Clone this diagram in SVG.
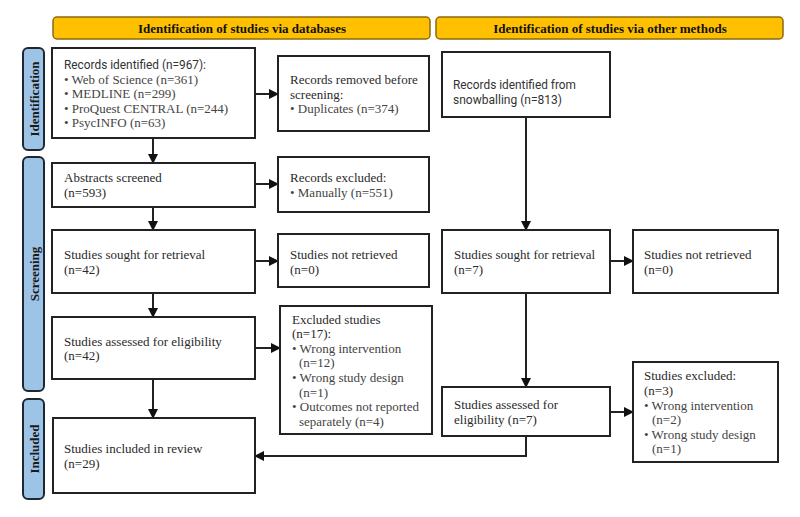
<svg xmlns="http://www.w3.org/2000/svg" width="800" height="517" viewBox="0 0 800 517">
<style>
.hdr{fill:#FFC000;stroke:#8A6A10;stroke-width:1.5}
.phase{fill:#9DC3E6;stroke:#1E2833;stroke-width:2}
.box{fill:#fff;stroke:#222;stroke-width:2}
.t{font-family:"Liberation Serif",serif;font-size:13px;fill:#2a2a2a}
.b{font-family:"Liberation Serif",serif;font-size:13px;fill:#444}
.s{font-family:Roboto,"Liberation Sans",sans-serif;font-size:12.5px;fill:#333}
.ht{font-family:"Liberation Serif",serif;font-size:13px;font-weight:bold;fill:#111;text-anchor:middle}
.pt{font-family:"Liberation Serif",serif;font-size:13px;font-weight:bold;fill:#1a1a1a;text-anchor:middle}
.c{fill:none;stroke:#222;stroke-width:2}
</style>
<defs>
<marker id="ah" markerWidth="10" markerHeight="10" refX="9" refY="5" orient="auto" markerUnits="userSpaceOnUse">
<path d="M0,0 L10,5 L0,10 Z" fill="#111"/>
</marker>
</defs>
<rect width="800" height="517" fill="#fff"/>

<g id="header-databases"><rect class="hdr" x="53" y="17" width="377" height="22" rx="4"/><text class="ht" x="242" y="32.5">Identification of studies via databases</text></g>
<g id="header-other"><rect class="hdr" x="436" y="17" width="347" height="22" rx="4"/><text class="ht" x="610" y="32.5">Identification of studies via other methods</text></g>

<g id="phase-identification"><rect class="phase" x="23" y="48" width="21" height="102" rx="5"/><text class="pt" transform="translate(38.5,99) rotate(-90)">Identification</text></g>
<g id="phase-screening"><rect class="phase" x="23" y="157" width="21" height="234" rx="5"/><text class="pt" transform="translate(38.5,274) rotate(-90)">Screening</text></g>
<g id="phase-included"><rect class="phase" x="23" y="399" width="21" height="100" rx="5"/><text class="pt" transform="translate(38.5,449) rotate(-90)">Included</text></g>

<g id="connectors">
<line class="c" x1="153" y1="138" x2="153" y2="163" marker-end="url(#ah)"/>
<line class="c" x1="153" y1="207" x2="153" y2="230" marker-end="url(#ah)"/>
<line class="c" x1="153" y1="293" x2="153" y2="317" marker-end="url(#ah)"/>
<line class="c" x1="153" y1="379" x2="153" y2="418" marker-end="url(#ah)"/>
<line class="c" x1="255" y1="94" x2="278" y2="94" marker-end="url(#ah)"/>
<line class="c" x1="255" y1="184" x2="278" y2="184" marker-end="url(#ah)"/>
<line class="c" x1="255" y1="261" x2="278" y2="261" marker-end="url(#ah)"/>
<line class="c" x1="255" y1="348" x2="280" y2="348" marker-end="url(#ah)"/>
<line class="c" x1="526" y1="117" x2="526" y2="230" marker-end="url(#ah)"/>
<line class="c" x1="526" y1="293" x2="526" y2="387" marker-end="url(#ah)"/>
<line class="c" x1="610" y1="261" x2="633" y2="261" marker-end="url(#ah)"/>
<line class="c" x1="610" y1="412" x2="633" y2="412" marker-end="url(#ah)"/>
<polyline class="c" points="526,436 526,456 255,456" marker-end="url(#ah)"/>
</g>

<g id="records-identified"><rect class="box" x="52" y="48" width="203" height="90"/>
<text class="s" x="64" y="69" textLength="142" lengthAdjust="spacingAndGlyphs">Records identified (n=967):</text>
<text class="b" x="64" y="84">• Web of Science (n=361)</text>
<text class="b" x="64" y="98">• MEDLINE (n=299)</text>
<text class="b" x="64" y="113">• ProQuest CENTRAL (n=244)</text>
<text class="b" x="64" y="127">• PsycINFO (n=63)</text></g>

<g id="records-removed"><rect class="box" x="278" y="56" width="151" height="75"/>
<text class="t" x="290" y="84">Records removed before</text>
<text class="t" x="290" y="99">screening:</text>
<text class="b" x="290" y="113">• Duplicates (n=374)</text></g>

<g id="abstracts-screened"><rect class="box" x="52" y="163" width="203" height="44"/>
<text class="t" x="64" y="182">Abstracts screened</text>
<text class="t" x="64" y="197">(n=593)</text></g>

<g id="records-excluded"><rect class="box" x="278" y="157" width="151" height="55"/>
<text class="t" x="290" y="182">Records excluded:</text>
<text class="b" x="290" y="197">• Manually (n=551)</text></g>

<g id="sought-db"><rect class="box" x="52" y="230" width="203" height="63"/>
<text class="t" x="64" y="259">Studies sought for retrieval</text>
<text class="t" x="64" y="274">(n=42)</text></g>

<g id="not-retrieved-db"><rect class="box" x="278" y="234" width="151" height="53"/>
<text class="t" x="290" y="259">Studies not retrieved</text>
<text class="t" x="290" y="274">(n=0)</text></g>

<g id="assessed-db"><rect class="box" x="52" y="317" width="203" height="62"/>
<text class="t" x="64" y="346">Studies assessed for eligibility</text>
<text class="t" x="64" y="360">(n=42)</text></g>

<g id="excluded-db"><rect class="box" x="280" y="306" width="152" height="128"/>
<text class="t" x="292" y="324">Excluded studies</text>
<text class="t" x="292" y="338">(n=17):</text>
<text class="b" x="292" y="353">• Wrong intervention</text>
<text class="b" x="299" y="367">(n=12)</text>
<text class="b" x="292" y="382">• Wrong study design</text>
<text class="b" x="299" y="397">(n=1)</text>
<text class="b" x="292" y="411">• Outcomes not reported</text>
<text class="b" x="299" y="426">separately (n=4)</text></g>

<g id="included"><rect class="box" x="53" y="418" width="202" height="75"/>
<text class="t" x="64" y="453">Studies included in review</text>
<text class="t" x="64" y="468">(n=29)</text></g>

<g id="snowballing"><rect class="box" x="442" y="52" width="168" height="65"/>
<text class="s" x="453" y="89" textLength="123" lengthAdjust="spacingAndGlyphs">Records identified from</text>
<text class="s" x="453" y="104" textLength="109" lengthAdjust="spacingAndGlyphs">snowballing (n=813)</text></g>

<g id="sought-other"><rect class="box" x="442" y="230" width="168" height="63"/>
<text class="t" x="454" y="259">Studies sought for retrieval</text>
<text class="t" x="454" y="274">(n=7)</text></g>

<g id="not-retrieved-other"><rect class="box" x="633" y="230" width="145" height="63"/>
<text class="t" x="644" y="259">Studies not retrieved</text>
<text class="t" x="644" y="274">(n=0)</text></g>

<g id="assessed-other"><rect class="box" x="442" y="387" width="168" height="49"/>
<text class="t" x="454" y="409">Studies assessed for</text>
<text class="t" x="454" y="424">eligibility (n=7)</text></g>

<g id="excluded-other"><rect class="box" x="633" y="362" width="145" height="100"/>
<text class="t" x="644" y="380">Studies excluded:</text>
<text class="t" x="644" y="395">(n=3)</text>
<text class="b" x="644" y="410">• Wrong intervention</text>
<text class="b" x="652" y="424">(n=2)</text>
<text class="b" x="644" y="439">• Wrong study design</text>
<text class="b" x="652" y="453">(n=1)</text></g>
</svg>
